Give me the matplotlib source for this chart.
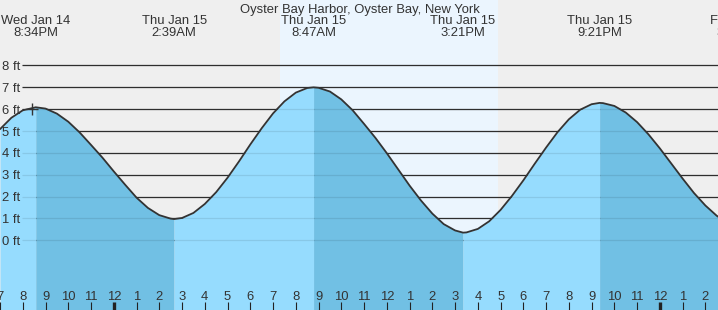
import matplotlib
matplotlib.use('Agg')
import matplotlib.pyplot as plt
from matplotlib import transforms
import numpy as np

plt.rcParams['font.family'] = ['Liberation Sans', 'DejaVu Sans']

# ---- data ----
tide_hours = [-5.0, -4.5, -4.0, -3.43, -3.0, -2.5, -2.0, -1.5, -1.0, -0.5,
              0.0, 0.5, 1.0, 1.5, 2.0, 2.5, 2.65, 3.0, 3.5, 4.0,
              4.5, 5.0, 5.5, 6.0, 6.5, 7.0, 7.5, 8.0, 8.5, 8.78,
              9.0, 9.5, 10.0, 10.5, 11.0, 11.5, 12.0, 12.5, 13.0, 13.5,
              14.0, 14.5, 15.0, 15.35, 15.5, 16.0, 16.5, 17.0, 17.5, 18.0,
              18.5, 19.0, 19.5, 20.0, 20.5, 21.0, 21.35, 21.5, 22.0, 22.5,
              23.0, 23.5, 24.0, 24.5, 25.0, 25.5, 26.0, 26.5, 27.0]
tide_ft = [5.08, 5.60, 5.94, 6.08, 6.02, 5.79, 5.42, 4.93, 4.36, 3.78,
           3.15, 2.54, 1.95, 1.48, 1.15, 0.99, 0.97, 1.02, 1.25, 1.66,
           2.20, 2.86, 3.60, 4.38, 5.12, 5.80, 6.35, 6.75, 6.96, 6.99,
           6.97, 6.80, 6.44, 5.94, 5.32, 4.68, 3.98, 3.24, 2.50, 1.82,
           1.22, 0.74, 0.45, 0.35, 0.36, 0.52, 0.87, 1.39, 2.03, 2.74,
           3.50, 4.24, 4.94, 5.53, 5.97, 6.22, 6.28, 6.27, 6.14, 5.84,
           5.40, 4.84, 4.20, 3.51, 2.82, 2.16, 1.59, 1.12, 0.79]

extreme_hours = [-3.43, 2.65, 8.78, 15.35, 21.35, 27.47]
extreme_days = ["Wed Jan 14", "Thu Jan 15", "Thu Jan 15", "Thu Jan 15",
                "Thu Jan 15", "Fri Jan 16"]
extreme_times = ["8:34PM", "2:39AM", "8:47AM", "3:21PM", "9:21PM", "3:28AM"]

sunrise_hour = 7.31
sunset_hour = 16.87

hour_ticks = list(range(-5, 27))
hour_labels = [str((h % 12) or 12) for h in hour_ticks]
ft_levels = list(range(0, 9))
ft_labels = [f"{v} ft" for v in ft_levels]
title = "Oyster Bay Harbor, Oyster Bay, New York"
marker_hour, marker_ft = -3.61, 6.0

# ---- style ----
W, H = 718, 310
FS = 9.4
TXT = '#333333'
LIGHT = '#96dcfe'
DARK = '#71c0e4'

fig = plt.figure(figsize=(W / 100, H / 100), dpi=100)
ax = fig.add_axes([0, 0, 1, 1])
ax.set_xlim(-4.923, 26.554)
ax.set_ylim(-3.186, 10.983)
ax.set_facecolor('#efefef')
ax.set_axisbelow(False)
for s in ax.spines.values():
    s.set_visible(False)

ax.axvspan(sunrise_hour, sunset_hour, color='#ebf5fe', lw=0, zorder=0)

ytr = ax.get_yaxis_transform()
ax.hlines(ft_levels, 22 / W, 1, transform=ytr, colors='#333333', lw=0.9, zorder=1)

t = np.array(tide_hours)
f = np.array(tide_ft)
bottom = ax.get_ylim()[0]
bounds = [t[0]] + [h for h in extreme_hours if t[0] < h < t[-1]] + [t[-1]]
for a, b in zip(bounds[:-1], bounds[1:]):
    m = (t >= a) & (t <= b)
    rising = f[m][-1] > f[m][0]
    ax.fill_between(t[m], bottom, f[m], color=LIGHT if rising else DARK,
                    lw=0, zorder=1.6)

ax.hlines(ft_levels, 22 / W, 1, transform=ytr, colors=(0, 0, 0, 0.09), lw=0.9, zorder=1.8)
ax.plot(t, f, color='#333333', lw=1.3, zorder=4, solid_capstyle='round')
ax.plot(marker_hour, marker_ft, marker='+', ms=8, mew=1.0, color='#333333', zorder=5)

# bottom hour ticks
ax.set_xticks(hour_ticks, hour_labels)
ax.tick_params(axis='x', direction='in', length=5.8, width=0.8, color='#222222',
               pad=-7.2, labelsize=FS, labelcolor=TXT)
for lab in ax.get_xticklabels():
    lab.set_va('baseline')
for tk, h in zip(ax.xaxis.get_major_ticks(), hour_ticks):
    if h % 24 == 0:
        tk.tick1line.set_markeredgewidth(2.4)
ax.set_yticks([])

# left ft labels
lab_tr = transforms.offset_copy(ytr, fig=fig, x=0, y=-4.7, units='dots')
for v, lab in zip(ft_levels, ft_labels):
    ax.text(2 / W, v, lab, transform=lab_tr, ha='left', va='baseline',
            fontsize=FS, color=TXT, zorder=6)

# top labels
xtr = ax.get_xaxis_transform()
for h, d, tm in zip(extreme_hours, extreme_days, extreme_times):
    ax.text(h, 1 - 24.3 / H, d, transform=xtr, ha='center', va='baseline',
            fontsize=FS, color=TXT, clip_on=False)
    ax.text(h, 1 - 36.0 / H, tm, transform=xtr, ha='center', va='baseline',
            fontsize=FS, color=TXT, clip_on=False)
fig.text(359.5 / W, 1 - 12.7 / H, title, ha='center', va='baseline',
         fontsize=FS, color=TXT)

fig.savefig('out.png', dpi=100)
